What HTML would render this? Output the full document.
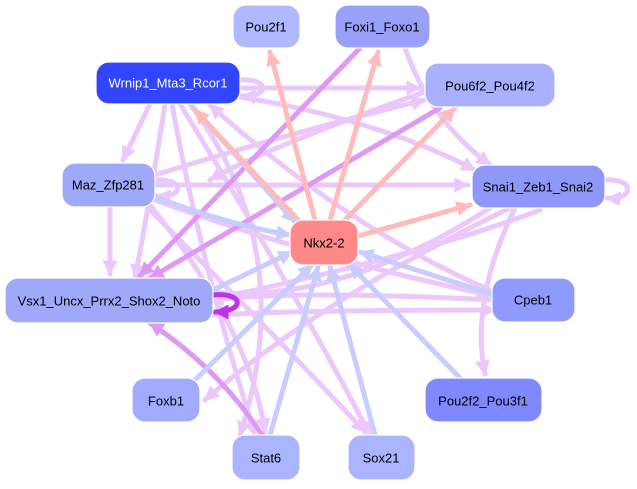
<!DOCTYPE html>
<html><head><meta charset="utf-8"><style>
html,body{margin:0;padding:0;background:#fff;width:637px;height:489px;overflow:hidden}
svg{display:block}
text{font-family:"Liberation Sans",sans-serif;font-size:13px;fill:#000;text-anchor:middle;dominant-baseline:central}
</style></head><body>
<svg width="637" height="489" viewBox="0 0 637 489" xmlns="http://www.w3.org/2000/svg">
<defs>
<marker id="mp" viewBox="0 0 10 10" refX="9" refY="5" markerWidth="3" markerHeight="3" orient="auto"><path d="M0,0L10,5L0,10z" fill="#ffbbbb"/></marker>
<marker id="mb" viewBox="0 0 10 10" refX="9" refY="5" markerWidth="3" markerHeight="3" orient="auto"><path d="M0,0L10,5L0,10z" fill="#c8ccff"/></marker>
<marker id="ml" viewBox="0 0 10 10" refX="9" refY="5" markerWidth="3" markerHeight="3" orient="auto"><path d="M0,0L10,5L0,10z" fill="#ebc8fb"/></marker>
<marker id="md" viewBox="0 0 10 10" refX="9" refY="5" markerWidth="3" markerHeight="3" orient="auto"><path d="M0,0L10,5L0,10z" fill="#dd99f5"/></marker>
<marker id="mv" viewBox="0 0 10 10" refX="9" refY="5" markerWidth="3" markerHeight="3" orient="auto"><path d="M0,0L10,5L0,10z" fill="#bb33ee"/></marker>
</defs>
<g fill="none" stroke-width="5" stroke-linecap="round">
<!-- light purple edges -->
<g stroke="#ebc8fb" marker-end="url(#ml)">
<path d="M150,104 L123,160"/>
<path d="M240,88 L420,88"/>
<path d="M240,97 Q380,120 475,170"/>
<path d="M172,104 Q200,260 255,435"/>
<path d="M180,104 Q300,300 370,435"/>
<path d="M190,104 Q300,250 240,435"/>
<path d="M165,104 Q150,200 135,278"/>
<path d="M110,207 L110,274"/>
<path d="M155,185 L468,185"/>
<path d="M155,175 Q300,130 425,100"/>
<path d="M155,200 Q320,260 490,295"/>
<path d="M150,205 Q250,330 265,432"/>
<path d="M150,210 Q280,340 365,432"/>
<path d="M405,48 Q430,120 490,165"/>
<path d="M515,208 Q470,300 485,374"/>
<path d="M510,208 Q320,300 205,400"/>
<path d="M490,208 Q300,330 140,278"/>
<path d="M430,90 Q260,150 210,180"/>
<path d="M492,300 Q300,290 210,300"/>
<path d="M490,290 Q350,230 210,105"/>
<path d="M213,315 Q300,310 495,310"/>
<path d="M540,210 Q410,260 160,310"/>
</g>
<!-- self loops -->
<path d="M240,80 C270,78 270,98 242,96" stroke="#ebc8fb" marker-end="url(#ml)"/>
<path d="M155,180 C185,178 185,198 157,196" stroke="#ebc8fb" marker-end="url(#ml)"/>
<path d="M605,180 C635,178 635,200 607,198" stroke="#ebc8fb" marker-end="url(#ml)"/>
<path d="M213,295 C245,292 245,312 215,312" stroke="#bb33ee" marker-end="url(#mv)"/>
<!-- darker purple -->
<g stroke="#dd99f5" marker-end="url(#md)">
<path d="M360,48 L140,276"/>
<path d="M440,108 L150,278"/>
<path d="M262,435 Q220,370 150,323"/>
</g>
<!-- blue edges into Nkx2-2 -->
<g stroke="#c8ccff" marker-end="url(#mb)">
<path d="M155,197 Q230,225 290,235"/>
<path d="M190,104 L295,222"/>
<path d="M213,290 L292,252"/>
<path d="M495,295 L360,252"/>
<path d="M195,380 L312,265"/>
<path d="M270,435 L318,267"/>
<path d="M375,435 L330,267"/>
<path d="M460,378 L350,265"/>
</g>
<!-- pink edges out of Nkx2-2 -->
<g stroke="#ffbbbb" marker-end="url(#mp)">
<path d="M315,220 L270,52"/>
<path d="M330,220 L378,52"/>
<path d="M345,220 L455,108"/>
<path d="M358,236 L470,205"/>
<path d="M300,222 L195,110"/>
</g>
</g>
<!-- nodes -->
<g stroke="#fff" stroke-width="1.2">
<rect x="233" y="5" width="67" height="43" rx="13" fill="#b0b8ff"/>
<rect x="335" y="5" width="95" height="43" rx="13" fill="#99a0f8"/>
<rect x="96" y="62" width="144" height="42" rx="13" fill="#3344ff"/>
<rect x="425" y="63" width="130" height="44" rx="13" fill="#a9b0ff"/>
<rect x="62" y="163" width="93" height="44" rx="13" fill="#a0a8f8"/>
<rect x="472" y="165" width="133" height="43" rx="13" fill="#8f98f8"/>
<rect x="290" y="220" width="68" height="45" rx="13" fill="#ff8888"/>
<rect x="5" y="278" width="208" height="45" rx="13" fill="#a0a8f8"/>
<rect x="492" y="278" width="83" height="44" rx="13" fill="#8f9aff"/>
<rect x="132" y="378" width="68" height="44" rx="13" fill="#a0aaff"/>
<rect x="425" y="378" width="117" height="44" rx="13" fill="#7f88ff"/>
<rect x="232" y="435" width="68" height="45" rx="13" fill="#aab4ff"/>
<rect x="348" y="435" width="67" height="45" rx="13" fill="#aab4ff"/>
</g>
<text x="266" y="27">Pou2f1</text>
<text x="382" y="27">Foxi1_Foxo1</text>
<text x="168" y="83" style="fill:#fff">Wrnip1_Mta3_Rcor1</text>
<text x="490" y="86">Pou6f2_Pou4f2</text>
<text x="108" y="185">Maz_Zfp281</text>
<text x="538" y="187">Snai1_Zeb1_Snai2</text>
<text x="324" y="243">Nkx2-2</text>
<text x="109" y="301">Vsx1_Uncx_Prrx2_Shox2_Noto</text>
<text x="533" y="300">Cpeb1</text>
<text x="166" y="401">Foxb1</text>
<text x="483" y="401">Pou2f2_Pou3f1</text>
<text x="266" y="458">Stat6</text>
<text x="381" y="458">Sox21</text>
</svg>
</body></html>
